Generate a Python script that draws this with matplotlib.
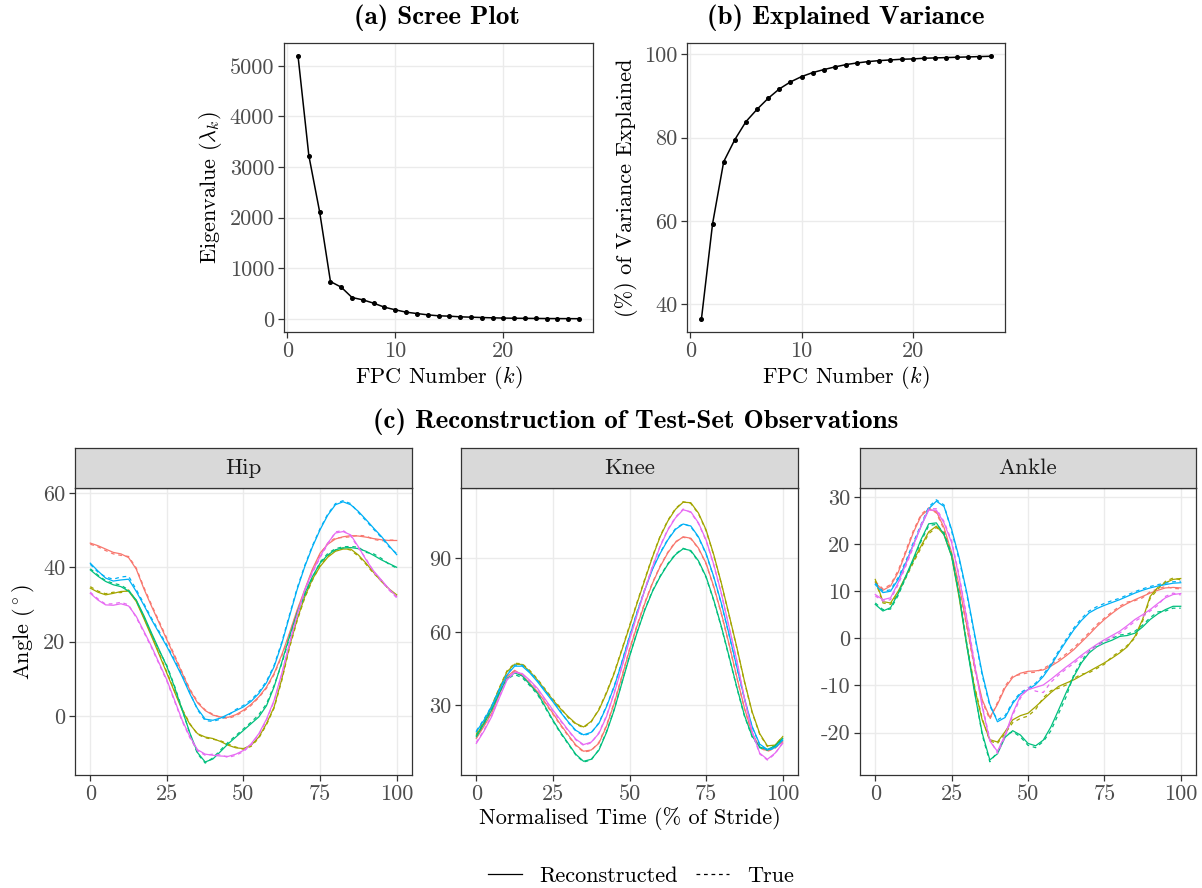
import numpy as np
import matplotlib.pyplot as plt
from matplotlib.lines import Line2D

plt.rcParams['font.family'] = 'serif'
plt.rcParams['font.serif'] = ['cmr10']
plt.rcParams['mathtext.fontset'] = 'cm'
plt.rcParams['axes.formatter.use_mathtext'] = False
plt.rcParams['axes.unicode_minus'] = False

# ---- data ----
k = np.arange(1, 28)
eigenvalues = [5190, 3224, 2112, 737, 625, 421, 375, 309, 230, 178, 132, 105, 79,
               60, 53, 40, 33, 26, 20, 15, 12, 10, 8, 6, 5, 4, 3]
var_explained = [36.56, 59.36, 74.24, 79.52, 83.84, 86.8, 89.44, 91.68, 93.36, 94.64,
                 95.6, 96.32, 96.96, 97.52, 97.92, 98.24, 98.48, 98.64, 98.8, 98.88,
                 99.04, 99.12, 99.2, 99.28, 99.36, 99.44, 99.52]

t = np.arange(0, 100.1, 2.5)
subjects = ['red', 'olive', 'green', 'blue', 'pink']
colours = ['#F8766D', '#A3A500', '#00BF7D', '#00B0F6', '#E76BF3']

hip_recon = {
    'red':   [46.5, 45.8, 44.9, 44.0, 43.6, 42.6, 39.5, 34.2, 29.5, 25.0,
              20.5, 16.0, 11.5, 7.0, 3.6, 1.5, 0.3, -0.2, -0.3, 0.4,
              1.6, 3.2, 5.2, 7.8, 11.5, 16.5, 22.3, 28.5, 34.0, 39.5,
              43.8, 46.2, 47.6, 48.2, 48.5, 48.4, 48.1, 47.7, 47.4, 47.2, 47.2],
    'olive': [34.4, 33.3, 32.6, 33.0, 33.5, 33.6, 30.8, 26.2, 21.4, 16.5,
              11.5, 6.5, 1.6, -2.2, -4.7, -5.6, -6.0, -6.8, -7.8, -8.5,
              -8.7, -7.8, -5.6, -2.0, 2.5, 10.0, 18.7, 26.0, 32.1, 36.8,
              40.2, 42.7, 44.3, 44.9, 44.9, 43.3, 41.1, 38.6, 36.2, 34.2, 32.6],
    'green': [39.3, 37.6, 36.2, 35.3, 34.8, 33.6, 31.2, 27.0, 22.3, 17.8,
              13.3, 7.8, 1.6, -4.5, -9.8, -12.3, -11.5, -9.5, -7.4, -5.6,
              -3.8, -2.0, -0.2, 2.8, 7.9, 14.5, 21.4, 27.8, 33.0, 37.5,
              41.1, 43.3, 44.7, 45.2, 45.3, 45.0, 44.3, 43.2, 42.0, 41.0, 40.0],
    'blue':  [41.1, 39.0, 37.1, 36.3, 36.6, 36.8, 33.5, 29.8, 25.9, 22.3,
              18.7, 14.7, 10.6, 6.0, 2.0, -0.8, -1.1, -0.5, 0.5, 1.5,
              2.5, 4.0, 6.1, 9.0, 13.3, 19.5, 26.8, 34.0, 40.2, 45.5,
              50.1, 54.0, 56.8, 57.6, 56.8, 55.0, 52.8, 50.5, 48.3, 45.8, 43.4],
    'pink':  [33.0, 31.2, 29.9, 29.8, 30.2, 29.6, 26.8, 22.8, 18.7, 14.2,
              9.7, 4.3, -1.1, -5.5, -9.0, -10.2, -10.5, -10.7, -10.8, -10.2,
              -9.2, -7.4, -4.7, -0.8, 4.3, 11.5, 19.6, 27.2, 34.0, 38.8,
              42.9, 46.5, 49.2, 49.6, 48.7, 45.5, 42.0, 39.0, 36.6, 34.2, 32.1],
}
hip_true = {
    'red':   [46.2, 45.5, 44.5, 43.6, 43.2, 42.9, 39.8, 34.6, 29.9, 25.4,
              20.9, 16.4, 11.8, 7.3, 3.9, 1.7, 0.5, -0.4, -0.6, 0.1,
              1.3, 2.9, 5.0, 7.5, 11.2, 16.1, 22.0, 28.2, 33.7, 39.2,
              43.5, 46.5, 47.9, 48.0, 48.2, 48.6, 48.4, 47.5, 47.1, 47.3, 47.3],
    'olive': [34.8, 33.6, 32.9, 33.3, 33.2, 33.9, 31.1, 26.5, 21.8, 16.9,
              11.8, 6.8, 1.9, -2.0, -4.9, -5.8, -6.2, -6.6, -7.5, -8.3,
              -8.9, -8.1, -5.9, -2.3, 2.2, 9.6, 18.3, 25.6, 31.8, 36.5,
              40.5, 43.0, 44.6, 45.2, 44.6, 43.0, 40.8, 38.3, 36.5, 34.0, 32.2],
    'green': [39.6, 37.9, 36.4, 35.7, 35.2, 33.9, 31.0, 26.7, 22.0, 17.5,
              13.6, 8.1, 1.9, -4.8, -10.1, -12.6, -11.2, -9.1, -7.0, -5.2,
              -3.4, -1.6, 0.4, 3.3, 8.3, 14.1, 21.0, 27.4, 32.6, 37.2,
              41.4, 43.7, 45.0, 45.5, 45.6, 45.4, 44.0, 43.6, 42.4, 40.8, 39.8],
    'blue':  [40.8, 38.7, 37.4, 36.8, 37.4, 37.6, 34.0, 30.2, 26.3, 22.7,
              19.1, 15.1, 10.9, 6.3, 1.7, -1.2, -1.4, -0.8, 0.2, 1.8,
              2.9, 4.4, 6.5, 9.4, 13.7, 19.9, 27.2, 34.4, 40.5, 45.8,
              50.4, 54.3, 57.1, 57.9, 57.1, 54.7, 52.5, 50.2, 48.0, 45.5, 43.7],
    'pink':  [33.3, 31.5, 30.1, 30.2, 30.6, 29.9, 26.5, 22.5, 18.4, 13.9,
              9.4, 4.0, -1.4, -5.8, -9.3, -10.5, -10.2, -10.4, -11.1, -10.5,
              -9.5, -7.7, -5.0, -1.1, 4.0, 11.2, 19.3, 26.9, 33.7, 38.5,
              42.6, 46.2, 49.5, 49.9, 48.4, 45.2, 42.3, 38.7, 36.3, 33.9, 31.8],
}

knee_recon = {
    'red':   [16.5, 21.5, 26.8, 34.5, 41.7, 44.3, 42.4, 39.0, 35.6, 31.2,
              26.8, 22.2, 17.9, 13.8, 11.3, 11.8, 14.5, 21.5, 30.8, 41.5,
              52.6, 62.5, 71.6, 79.8, 86.6, 92.2, 96.5, 98.8, 98.2, 94.2,
              88.0, 78.5, 67.5, 55.0, 41.7, 29.0, 18.8, 13.0, 11.5, 12.8, 15.1],
    'olive': [17.9, 23.0, 29.4, 36.8, 43.7, 46.8, 46.7, 43.8, 40.3, 36.2,
              32.2, 28.6, 25.4, 22.6, 21.2, 23.5, 28.1, 35.0, 43.0, 52.5,
              62.1, 71.8, 81.2, 90.5, 98.8, 105.2, 110.0, 112.9, 112.7, 108.5,
              101.6, 91.5, 79.8, 67.0, 53.9, 40.0, 27.5, 18.5, 13.5, 13.8, 17.2],
    'green': [17.2, 22.5, 28.1, 35.0, 41.0, 43.3, 42.0, 38.5, 34.9, 29.5,
              24.0, 19.0, 14.5, 10.0, 7.2, 8.0, 11.7, 19.0, 28.1, 39.0,
              49.9, 59.8, 68.9, 76.5, 82.5, 87.5, 91.5, 93.9, 93.2, 89.0,
              82.5, 73.0, 62.1, 50.0, 37.6, 26.0, 17.5, 13.0, 12.0, 13.5, 16.5],
    'blue':  [19.2, 24.0, 29.4, 36.2, 42.4, 46.0, 46.0, 43.2, 39.6, 35.5,
              31.5, 27.2, 23.3, 19.8, 18.0, 19.0, 22.6, 29.5, 37.6, 47.5,
              58.0, 68.0, 77.1, 85.5, 92.0, 97.5, 101.8, 104.0, 103.2, 98.8,
              92.0, 82.5, 71.6, 59.0, 45.8, 33.0, 21.5, 14.2, 12.0, 12.8, 15.8],
    'pink':  [14.5, 19.5, 25.4, 33.0, 40.3, 43.5, 43.0, 40.2, 36.9, 32.5,
              28.1, 24.0, 19.9, 16.2, 14.0, 15.0, 18.5, 25.5, 34.9, 45.5,
              56.7, 67.0, 77.1, 86.5, 94.8, 101.5, 106.5, 109.8, 109.0, 104.5,
              97.5, 87.5, 75.7, 62.0, 48.5, 33.0, 19.5, 10.5, 8.0, 10.5, 14.5],
}
knee_true = {
    'red':   [16.9, 21.9, 27.2, 34.9, 42.0, 44.0, 42.0, 38.6, 35.2, 30.8,
              26.4, 21.8, 17.5, 13.5, 11.0, 11.5, 14.9, 21.9, 31.2, 41.9,
              53.0, 62.9, 72.0, 80.1, 86.9, 92.5, 96.8, 98.6, 98.0, 94.0,
              87.7, 78.2, 67.2, 54.7, 41.4, 28.7, 18.5, 12.7, 11.2, 12.5, 15.4],
    'olive': [18.3, 23.4, 29.8, 37.2, 44.1, 47.2, 47.0, 44.2, 40.7, 36.6,
              32.6, 29.0, 25.0, 22.3, 20.9, 23.2, 28.5, 35.4, 43.4, 52.9,
              62.5, 72.2, 81.6, 90.8, 99.1, 105.5, 110.3, 113.1, 112.4, 108.2,
              101.3, 91.2, 79.5, 66.7, 53.6, 39.7, 27.2, 18.2, 13.2, 13.5, 17.5],
    'green': [17.6, 22.9, 28.5, 35.4, 40.6, 42.6, 41.3, 38.0, 34.4, 29.0,
              23.6, 18.6, 14.2, 9.7, 6.9, 7.7, 12.0, 19.3, 28.4, 39.3,
              50.2, 60.1, 69.2, 76.8, 82.8, 87.8, 91.8, 94.1, 92.9, 88.7,
              82.2, 72.7, 61.8, 49.7, 37.3, 25.7, 17.2, 12.7, 11.7, 13.2, 16.2],
    'blue':  [19.6, 24.4, 29.8, 36.6, 42.8, 46.4, 46.4, 43.6, 40.0, 35.9,
              31.9, 27.6, 23.0, 19.5, 17.7, 18.7, 22.9, 29.8, 37.9, 47.8,
              58.3, 68.3, 77.4, 85.8, 92.3, 97.8, 102.1, 104.2, 102.9, 98.5,
              91.7, 82.2, 71.3, 58.7, 45.5, 32.7, 21.2, 13.9, 11.7, 12.5, 16.1],
    'pink':  [14.9, 19.9, 25.8, 33.4, 40.7, 43.9, 42.6, 39.8, 36.5, 32.1,
              27.7, 23.6, 19.6, 15.9, 13.7, 14.7, 18.8, 25.8, 35.2, 45.8,
              57.0, 67.3, 77.4, 86.8, 95.1, 101.8, 106.8, 110.1, 108.7, 104.2,
              97.2, 87.2, 75.4, 61.7, 48.2, 32.7, 19.2, 10.2, 7.7, 10.2, 14.8],
}

ankle_recon = {
    'red':   [11.8, 10.2, 11.1, 14.0, 18.2, 22.5, 26.0, 27.4, 26.9, 23.5,
              18.2, 11.0, 2.6, -6.0, -13.0, -16.8, -14.0, -10.5, -8.3, -7.4,
              -7.0, -6.9, -6.7, -5.9, -4.9, -3.7, -2.4, -0.8, 0.8, 2.5,
              4.0, 5.3, 6.5, 7.4, 8.2, 8.9, 9.6, 10.2, 10.7, 10.8, 10.7],
    'olive': [12.5, 7.8, 7.5, 10.0, 13.2, 16.5, 19.6, 22.6, 23.8, 22.0,
              17.4, 8.5, -1.7, -10.5, -17.3, -21.5, -22.0, -19.8, -17.3, -16.4,
              -15.9, -14.5, -13.0, -11.5, -10.2, -9.5, -8.8, -7.9, -7.0, -6.1,
              -5.2, -4.2, -3.1, -1.8, 0.4, 4.0, 8.9, 10.8, 11.8, 12.5, 12.7],
    'green': [7.2, 5.8, 6.5, 9.5, 13.2, 17.0, 21.0, 24.3, 24.5, 22.0,
              17.4, 9.0, -1.7, -11.5, -20.1, -25.8, -24.5, -21.0, -19.6, -20.5,
              -22.3, -22.8, -21.6, -18.8, -15.2, -11.5, -8.1, -5.2, -3.1, -1.8,
              -1.0, -0.4, 0.4, 0.6, 1.1, 2.4, 4.0, 5.2, 6.1, 6.8, 6.8],
    'blue':  [11.4, 9.7, 10.0, 12.5, 16.0, 20.0, 23.8, 27.5, 29.1, 28.0,
              23.1, 17.0, 9.6, 1.0, -7.4, -14.0, -17.7, -16.8, -13.8, -11.8,
              -10.9, -9.8, -8.1, -5.8, -3.1, -0.6, 1.8, 3.8, 5.4, 6.3,
              7.0, 7.6, 8.2, 8.9, 9.6, 10.2, 10.7, 11.1, 11.4, 11.7, 11.8],
    'pink':  [9.3, 8.2, 8.6, 11.8, 15.7, 19.8, 23.8, 27.2, 27.2, 24.5,
              20.3, 12.8, 4.0, -5.5, -14.5, -21.8, -24.0, -20.5, -15.9, -12.3,
              -10.9, -10.4, -9.9, -8.7, -7.4, -6.1, -4.9, -3.6, -2.4, -1.3,
              -0.3, 0.6, 1.5, 2.7, 4.0, 5.0, 6.1, 7.4, 8.6, 9.3, 9.5],
}
ankle_true = {
    'red':   [12.1, 10.5, 11.4, 14.4, 18.6, 22.9, 26.3, 27.7, 26.6, 23.1,
              17.8, 10.6, 2.2, -6.4, -13.4, -17.2, -13.6, -10.1, -8.0, -7.7,
              -7.3, -7.2, -6.4, -5.5, -4.5, -3.3, -2.0, -0.4, 1.2, 2.9,
              4.3, 5.6, 6.8, 7.7, 8.0, 8.6, 9.9, 10.5, 11.0, 10.6, 10.5],
    'olive': [12.2, 7.5, 7.2, 9.6, 12.8, 16.1, 19.2, 22.2, 23.5, 22.4,
              17.8, 8.9, -1.3, -10.1, -17.0, -21.8, -22.3, -20.2, -17.9, -17.0,
              -16.5, -15.1, -12.6, -11.1, -10.6, -9.9, -8.5, -7.6, -7.3, -6.4,
              -5.5, -3.9, -2.8, -1.5, 0.0, 3.6, 8.5, 10.4, 12.1, 12.8, 12.4],
    'green': [7.5, 6.1, 6.2, 9.1, 12.9, 16.6, 20.6, 23.9, 24.2, 22.4,
              17.8, 9.4, -1.3, -11.1, -20.5, -26.2, -24.1, -20.6, -19.8, -20.9,
              -22.7, -23.2, -21.9, -19.6, -16.0, -12.4, -7.7, -4.8, -2.7, -1.4,
              -0.6, 0.0, 0.7, 0.9, 1.5, 2.8, 4.4, 5.6, 5.8, 6.4, 6.4],
    'blue':  [11.7, 10.0, 10.3, 12.9, 16.4, 20.4, 24.2, 27.9, 29.4, 28.3,
              22.7, 16.6, 9.2, 0.6, -7.8, -14.4, -17.3, -16.4, -13.5, -11.5,
              -10.6, -9.5, -7.7, -5.4, -2.7, -0.2, 2.2, 4.2, 5.8, 6.7,
              7.4, 8.0, 8.5, 9.2, 9.9, 10.5, 11.0, 11.4, 11.7, 12.0, 12.1],
    'pink':  [9.0, 7.9, 8.2, 11.4, 15.3, 19.4, 24.1, 27.5, 27.5, 24.8,
              20.7, 13.2, 4.4, -5.1, -14.1, -21.4, -24.4, -20.9, -16.3, -12.7,
              -10.4, -11.2, -11.5, -9.3, -7.8, -6.5, -5.3, -4.0, -2.8, -1.7,
              -0.7, 0.2, 1.1, 2.3, 3.6, 4.6, 5.8, 7.0, 8.9, 9.6, 9.2],
}

joints = ['Hip', 'Knee', 'Ankle']
recon = [hip_recon, knee_recon, ankle_recon]
true = [hip_true, knee_true, ankle_true]
y_ticks = [[0, 20, 40, 60], [30, 60, 90], [-20, -10, 0, 10, 20, 30]]
y_lims = [(-15.8, 61.3), (1.6, 118.7), (-29.0, 31.9)]

# ---- figure ----
W, H = 1202, 888
fig = plt.figure(figsize=(W / 100, H / 100), dpi=100)

GRID = '#EBEBEB'
TICK_TXT = '#4D4D4D'
FRAME = '#333333'
TICK_FS = 16
LAB_FS = 16
TITLE_FS = 19.5
DASH = (0, (3, 3))


def px_axes(l, t, r, b):
    return fig.add_axes([l / W, 1 - b / H, (r - l) / W, (b - t) / H])


def style(ax):
    ax.set_facecolor('white')
    ax.grid(True, color=GRID, linewidth=1.0)
    ax.set_axisbelow(True)
    for s in ax.spines.values():
        s.set_color(FRAME)
        s.set_linewidth(0.9)
    ax.tick_params(direction='out', length=4, width=0.9, color=FRAME,
                   labelcolor=TICK_TXT, labelsize=TICK_FS, pad=3)


# (a) scree plot
ax_a = px_axes(284, 43, 593, 332)
style(ax_a)
ax_a.plot(k, eigenvalues, color='black', linewidth=1.1, marker='o', markersize=2.6)
ax_a.set_xlim(-0.3, 28.3)
ax_a.set_ylim(-260, 5450)
ax_a.set_xticks([0, 10, 20])
ax_a.set_yticks([0, 1000, 2000, 3000, 4000, 5000])
ax_a.set_xlabel(r'FPC Number ($k$)', fontsize=LAB_FS, labelpad=2)
ax_a.set_ylabel(r'Eigenvalue ($\lambda_k$)', fontsize=LAB_FS, labelpad=4)

# (b) explained variance
ax_b = px_axes(687, 43, 1005, 332)
style(ax_b)
ax_b.plot(k, var_explained, color='black', linewidth=1.1, marker='o', markersize=2.6)
ax_b.set_xlim(-0.3, 28.3)
ax_b.set_ylim(33.4, 102.7)
ax_b.set_xticks([0, 10, 20])
ax_b.set_yticks([40, 60, 80, 100])
ax_b.set_xlabel(r'FPC Number ($k$)', fontsize=LAB_FS, labelpad=2)
ax_b.set_ylabel('(%) of Variance Explained', fontsize=LAB_FS, labelpad=4)

fig.text(437 / W, 1 - 18 / H, '(a) Scree Plot', ha='center', va='center',
         fontsize=TITLE_FS, family='cmb10')
fig.text(846 / W, 1 - 18 / H, '(b) Explained Variance', ha='center', va='center',
         fontsize=TITLE_FS, family='cmb10')

# (c) reconstruction facets
panels = [(75, 412), (461, 798), (860, 1196)]
for i, (l, r) in enumerate(panels):
    ax = px_axes(l, 488, r, 775)
    style(ax)
    for name, col in zip(subjects, colours):
        ax.plot(t, recon[i][name], color=col, linewidth=0.9, linestyle='-')
        ax.plot(t, true[i][name], color=col, linewidth=0.9, linestyle=DASH)
    ax.set_xlim(-5, 105)
    ax.set_xticks([0, 25, 50, 75, 100])
    ax.set_ylim(*y_lims[i])
    ax.set_yticks(y_ticks[i])

    strip = px_axes(l, 448, r, 488)
    strip.set_facecolor('#D9D9D9')
    strip.set_xticks([])
    strip.set_yticks([])
    for s in strip.spines.values():
        s.set_color(FRAME)
        s.set_linewidth(0.9)
    strip.text(0.5, 0.5, joints[i], ha='center', va='center', fontsize=16.5,
               color='#1A1A1A', transform=strip.transAxes)

    if i == 0:
        ax.set_ylabel(r'Angle ($^\circ$)', fontsize=LAB_FS, labelpad=4)
    if i == 1:
        ax.set_xlabel('Normalised Time (% of Stride)', fontsize=LAB_FS, labelpad=2)

fig.text(636 / W, 1 - 422 / H, '(c) Reconstruction of Test-Set Observations',
         ha='center', va='center', fontsize=TITLE_FS, family='cmb10')

handles = [Line2D([], [], color='black', linewidth=0.9, linestyle='-'),
           Line2D([], [], color='black', linewidth=0.9, linestyle=DASH)]
fig.legend(handles, ['Reconstructed', 'True'], loc='center', ncol=2, frameon=False,
           bbox_to_anchor=(641 / W, 1 - 876 / H), fontsize=LAB_FS,
           handlelength=1.5, handletextpad=0.8, columnspacing=0.8)

fig.savefig('out.png', dpi=100)
